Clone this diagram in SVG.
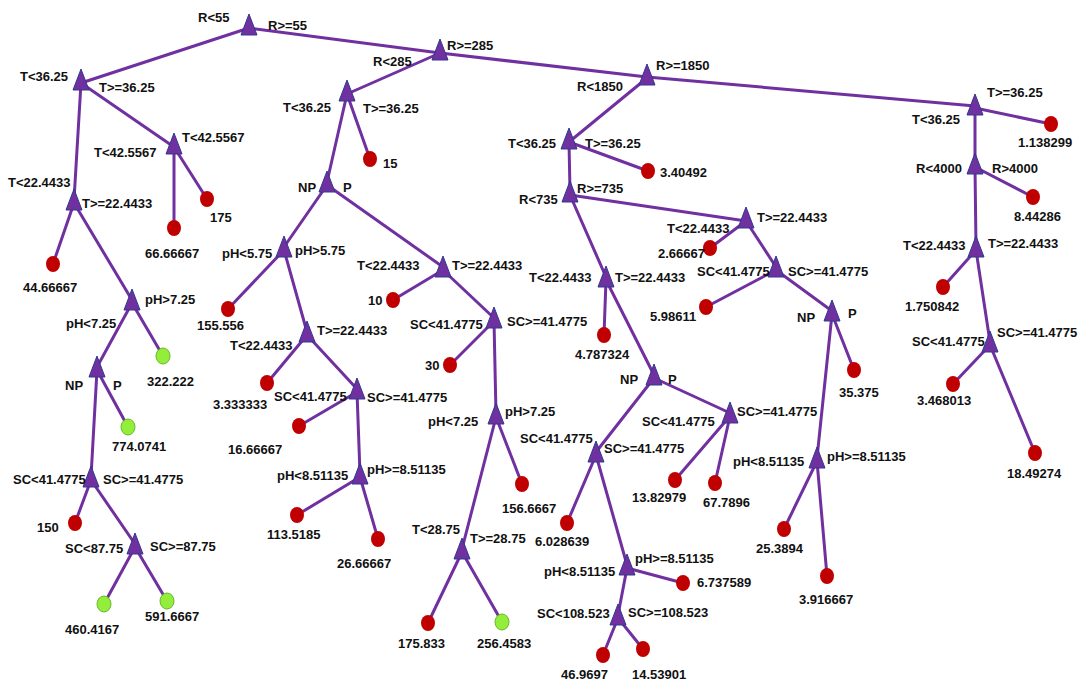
<svg xmlns="http://www.w3.org/2000/svg" xmlns:xlink="http://www.w3.org/1999/xlink" width="1080" height="684" viewBox="0 0 1080 684">
<style>
.e{stroke:#7030A0;stroke-width:3;fill:none;stroke-linecap:round}
.tri{fill:#7030A0;stroke:#2E3A8C;stroke-width:1}
.red{fill:#C00000}
.grn{fill:#92EE3A;stroke:#6AB82A;stroke-width:1}
text{font-family:"Liberation Sans",Arial,sans-serif;font-weight:bold;font-size:13px;fill:#111}
</style>
<defs>
<path id="tri" class="tri" d="M0,-11 L8,10 L-8,10 Z"/>
</defs>
<rect width="1080" height="684" fill="#fff"/>
<g id="connectors">
<polyline class="e" points="249,28 440,53 647,77 975,106"/>
<line class="e" x1="249" y1="28" x2="81" y2="83"/>
<line class="e" x1="81" y1="83" x2="74" y2="200"/>
<line class="e" x1="81" y1="83" x2="174" y2="147"/>
<line class="e" x1="174" y1="147" x2="174" y2="228"/>
<line class="e" x1="174" y1="147" x2="207" y2="199"/>
<line class="e" x1="74" y1="203" x2="53" y2="264"/>
<line class="e" x1="74" y1="203" x2="132" y2="300"/>
<line class="e" x1="132" y1="303" x2="97" y2="367"/>
<line class="e" x1="132" y1="303" x2="163" y2="356"/>
<line class="e" x1="97" y1="370" x2="128" y2="427"/>
<line class="e" x1="97" y1="370" x2="91" y2="477"/>
<line class="e" x1="91" y1="480" x2="75" y2="523"/>
<line class="e" x1="91" y1="480" x2="135" y2="544"/>
<line class="e" x1="135" y1="547" x2="104" y2="604"/>
<line class="e" x1="135" y1="547" x2="167" y2="601"/>
<line class="e" x1="440" y1="53" x2="347" y2="94"/>
<line class="e" x1="347" y1="94" x2="327" y2="182"/>
<line class="e" x1="347" y1="94" x2="370" y2="159"/>
<line class="e" x1="327" y1="185" x2="284" y2="247"/>
<line class="e" x1="327" y1="185" x2="443" y2="267"/>
<line class="e" x1="284" y1="250" x2="228" y2="309"/>
<line class="e" x1="284" y1="250" x2="307" y2="332"/>
<line class="e" x1="307" y1="335" x2="267" y2="383"/>
<line class="e" x1="307" y1="335" x2="357" y2="389"/>
<line class="e" x1="357" y1="392" x2="299" y2="426"/>
<line class="e" x1="357" y1="392" x2="360" y2="474"/>
<line class="e" x1="360" y1="477" x2="297" y2="515"/>
<line class="e" x1="360" y1="477" x2="378" y2="539"/>
<line class="e" x1="443" y1="270" x2="393" y2="300"/>
<line class="e" x1="443" y1="270" x2="494" y2="318"/>
<line class="e" x1="494" y1="321" x2="450" y2="365"/>
<line class="e" x1="494" y1="321" x2="496" y2="414"/>
<line class="e" x1="496" y1="417" x2="462" y2="549"/>
<line class="e" x1="496" y1="417" x2="522" y2="484"/>
<line class="e" x1="462" y1="552" x2="428" y2="623"/>
<line class="e" x1="462" y1="552" x2="502" y2="622"/>
<line class="e" x1="647" y1="78" x2="569" y2="142"/>
<line class="e" x1="569" y1="142" x2="570" y2="192"/>
<line class="e" x1="569" y1="142" x2="648" y2="171"/>
<line class="e" x1="570" y1="195" x2="746" y2="221"/>
<line class="e" x1="570" y1="195" x2="606" y2="277"/>
<line class="e" x1="746" y1="221" x2="710" y2="248"/>
<line class="e" x1="746" y1="221" x2="776" y2="267"/>
<line class="e" x1="776" y1="270" x2="706" y2="307"/>
<line class="e" x1="776" y1="270" x2="832" y2="311"/>
<line class="e" x1="832" y1="314" x2="854" y2="370"/>
<line class="e" x1="832" y1="314" x2="817" y2="458"/>
<line class="e" x1="817" y1="461" x2="784" y2="529"/>
<line class="e" x1="817" y1="461" x2="827" y2="576"/>
<line class="e" x1="606" y1="280" x2="604" y2="335"/>
<line class="e" x1="606" y1="280" x2="654" y2="375"/>
<line class="e" x1="654" y1="378" x2="596" y2="452"/>
<line class="e" x1="654" y1="378" x2="730" y2="413"/>
<line class="e" x1="730" y1="416" x2="675" y2="480"/>
<line class="e" x1="730" y1="416" x2="715" y2="483"/>
<line class="e" x1="596" y1="455" x2="567" y2="523"/>
<line class="e" x1="596" y1="455" x2="627" y2="565"/>
<line class="e" x1="627" y1="568" x2="683" y2="583"/>
<line class="e" x1="627" y1="568" x2="618" y2="615"/>
<line class="e" x1="618" y1="618" x2="603" y2="655"/>
<line class="e" x1="618" y1="618" x2="643" y2="649"/>
<line class="e" x1="975" y1="108" x2="1051" y2="124"/>
<line class="e" x1="975" y1="108" x2="975" y2="164"/>
<line class="e" x1="975" y1="167" x2="1033" y2="197"/>
<line class="e" x1="975" y1="167" x2="976" y2="247"/>
<line class="e" x1="976" y1="250" x2="943" y2="287"/>
<line class="e" x1="976" y1="250" x2="990" y2="342"/>
<line class="e" x1="990" y1="345" x2="953" y2="384"/>
<line class="e" x1="990" y1="345" x2="1035" y2="453"/>
</g>
<g id="n-A"><use href="#tri" x="249" y="25"/><text x="198" y="22">R&lt;55</text><text x="268" y="30">R&gt;=55</text></g>
<g id="n-B"><use href="#tri" x="81" y="80"/><text x="20" y="81">T&lt;36.25</text><text x="99" y="92">T&gt;=36.25</text></g>
<g id="n-E"><use href="#tri" x="174" y="144"/><text x="94" y="157">T&lt;42.5567</text><text x="182" y="142">T&lt;42.5567</text></g>
<g id="n-D"><use href="#tri" x="74" y="200"/><text x="8" y="187">T&lt;22.4433</text><text x="82" y="208">T&gt;=22.4433</text></g>
<g id="n-F"><use href="#tri" x="132" y="300"/><text x="145" y="304">pH&gt;7.25</text><text x="66" y="328">pH&lt;7.25</text></g>
<g id="n-G"><use href="#tri" x="97" y="367"/><text x="65" y="390">NP</text><text x="113" y="390">P</text></g>
<g id="n-H"><use href="#tri" x="91" y="477"/><text x="13" y="484">SC&lt;41.4775</text><text x="103" y="484">SC&gt;=41.4775</text></g>
<g id="n-I"><use href="#tri" x="135" y="544"/><text x="65" y="553">SC&lt;87.75</text><text x="150" y="551">SC&gt;=87.75</text></g>
<g id="n-C"><use href="#tri" x="440" y="50"/><text x="447" y="50">R&gt;=285</text><text x="373" y="66">R&lt;285</text></g>
<g id="n-J"><use href="#tri" x="347" y="91"/><text x="283" y="112">T&lt;36.25</text><text x="363" y="113">T&gt;=36.25</text></g>
<g id="n-L"><use href="#tri" x="327" y="182"/><text x="298" y="192">NP</text><text x="343" y="192">P</text></g>
<g id="n-M"><use href="#tri" x="284" y="247"/><text x="222" y="258">pH&lt;5.75</text><text x="295" y="255">pH&gt;5.75</text></g>
<g id="n-O"><use href="#tri" x="307" y="332"/><text x="230" y="350">T&lt;22.4433</text><text x="317" y="335">T&gt;=22.4433</text></g>
<g id="n-P"><use href="#tri" x="357" y="389"/><text x="274" y="401">SC&lt;41.4775</text><text x="367" y="402">SC&gt;=41.4775</text></g>
<g id="n-Q"><use href="#tri" x="360" y="474"/><text x="277" y="480">pH&lt;8.51135</text><text x="367" y="474">pH&gt;=8.51135</text></g>
<g id="n-N"><use href="#tri" x="443" y="267"/><text x="357" y="270">T&lt;22.4433</text><text x="452" y="270">T&gt;=22.4433</text></g>
<g id="n-R"><use href="#tri" x="494" y="318"/><text x="410" y="329">SC&lt;41.4775</text><text x="507" y="326">SC&gt;=41.4775</text></g>
<g id="n-S"><use href="#tri" x="496" y="414"/><text x="428" y="426">pH&lt;7.25</text><text x="505" y="416">pH&gt;7.25</text></g>
<g id="n-T"><use href="#tri" x="462" y="549"/><text x="412" y="534">T&lt;28.75</text><text x="470" y="543">T&gt;=28.75</text></g>
<g id="n-K"><use href="#tri" x="647" y="75"/><text x="656" y="70">R&gt;=1850</text><text x="577" y="91">R&lt;1850</text></g>
<g id="n-U"><use href="#tri" x="569" y="139"/><text x="508" y="148">T&lt;36.25</text><text x="585" y="148">T&gt;=36.25</text></g>
<g id="n-W"><use href="#tri" x="570" y="192"/><text x="519" y="204">R&lt;735</text><text x="577" y="193">R&gt;=735</text></g>
<g id="n-Y"><use href="#tri" x="746" y="218"/><text x="667" y="233">T&lt;22.4433</text><text x="757" y="222">T&gt;=22.4433</text></g>
<g id="n-Z"><use href="#tri" x="776" y="267"/><text x="697" y="276">SC&lt;41.4775</text><text x="788" y="276">SC&gt;=41.4775</text></g>
<g id="n-AA"><use href="#tri" x="832" y="311"/><text x="797" y="322">NP</text><text x="848" y="318">P</text></g>
<g id="n-AB"><use href="#tri" x="817" y="458"/><text x="733" y="466">pH&lt;8.51135</text><text x="827" y="461">pH&gt;=8.51135</text></g>
<g id="n-X"><use href="#tri" x="606" y="277"/><text x="529" y="282">T&lt;22.4433</text><text x="615" y="282">T&gt;=22.4433</text></g>
<g id="n-AC"><use href="#tri" x="654" y="375"/><text x="620" y="384">NP</text><text x="668" y="384">P</text></g>
<g id="n-AE"><use href="#tri" x="730" y="413"/><text x="642" y="426">SC&lt;41.4775</text><text x="737" y="416">SC&gt;=41.4775</text></g>
<g id="n-AD"><use href="#tri" x="596" y="452"/><text x="520" y="443">SC&lt;41.4775</text><text x="604" y="453">SC&gt;=41.4775</text></g>
<g id="n-AF"><use href="#tri" x="627" y="565"/><text x="544" y="576">pH&lt;8.51135</text><text x="635" y="563">pH&gt;=8.51135</text></g>
<g id="n-AG"><use href="#tri" x="618" y="615"/><text x="537" y="618">SC&lt;108.523</text><text x="628" y="617">SC&gt;=108.523</text></g>
<g id="n-V"><use href="#tri" x="975" y="105"/><text x="987" y="97">T&gt;=36.25</text><text x="912" y="124">T&lt;36.25</text></g>
<g id="n-AH"><use href="#tri" x="975" y="164"/><text x="916" y="173">R&lt;4000</text><text x="992" y="173">R&gt;4000</text></g>
<g id="n-AI"><use href="#tri" x="976" y="247"/><text x="903" y="250">T&lt;22.4433</text><text x="988" y="248">T&gt;=22.4433</text></g>
<g id="n-AJ"><use href="#tri" x="990" y="342"/><text x="912" y="346">SC&lt;41.4775</text><text x="997" y="337">SC&gt;=41.4775</text></g>
<g id="leaf-175"><ellipse class="red" cx="207" cy="199" rx="7" ry="8"/><text x="210" y="222">175</text></g>
<g id="leaf-66"><ellipse class="red" cx="174" cy="228" rx="7" ry="8"/><text x="145" y="258">66.66667</text></g>
<g id="leaf-44"><ellipse class="red" cx="53" cy="264" rx="7" ry="8"/><text x="23" y="292">44.66667</text></g>
<g id="leaf-322"><ellipse class="grn" cx="163" cy="356" rx="7" ry="8"/><text x="147" y="386">322.222</text></g>
<g id="leaf-774"><ellipse class="grn" cx="128" cy="427" rx="7" ry="8"/><text x="112" y="451">774.0741</text></g>
<g id="leaf-150"><ellipse class="red" cx="75" cy="523" rx="7" ry="8"/><text x="37" y="532">150</text></g>
<g id="leaf-460"><ellipse class="grn" cx="104" cy="604" rx="7" ry="8"/><text x="65" y="634">460.4167</text></g>
<g id="leaf-591"><ellipse class="grn" cx="167" cy="601" rx="7" ry="8"/><text x="145" y="621">591.6667</text></g>
<g id="leaf-15"><ellipse class="red" cx="370" cy="159" rx="7" ry="8"/><text x="383" y="168">15</text></g>
<g id="leaf-155"><ellipse class="red" cx="228" cy="309" rx="7" ry="8"/><text x="197" y="330">155.556</text></g>
<g id="leaf-3333"><ellipse class="red" cx="267" cy="383" rx="7" ry="8"/><text x="213" y="409">3.333333</text></g>
<g id="leaf-1666"><ellipse class="red" cx="299" cy="426" rx="7" ry="8"/><text x="228" y="454">16.66667</text></g>
<g id="leaf-113"><ellipse class="red" cx="297" cy="515" rx="7" ry="8"/><text x="267" y="539">113.5185</text></g>
<g id="leaf-2666"><ellipse class="red" cx="378" cy="539" rx="7" ry="8"/><text x="337" y="568">26.66667</text></g>
<g id="leaf-10"><ellipse class="red" cx="393" cy="300" rx="7" ry="8"/><text x="368" y="305">10</text></g>
<g id="leaf-30"><ellipse class="red" cx="450" cy="365" rx="7" ry="8"/><text x="425" y="370">30</text></g>
<g id="leaf-156"><ellipse class="red" cx="522" cy="484" rx="7" ry="8"/><text x="502" y="513">156.6667</text></g>
<g id="leaf-175833"><ellipse class="red" cx="428" cy="623" rx="7" ry="8"/><text x="398" y="648">175.833</text></g>
<g id="leaf-256"><ellipse class="grn" cx="502" cy="622" rx="7" ry="8"/><text x="477" y="648">256.4583</text></g>
<g id="leaf-3404"><ellipse class="red" cx="648" cy="171" rx="7" ry="8"/><text x="660" y="177">3.40492</text></g>
<g id="leaf-266"><ellipse class="red" cx="710" cy="248" rx="7" ry="8"/><text x="658" y="258">2.66667</text></g>
<g id="leaf-598"><ellipse class="red" cx="706" cy="307" rx="7" ry="8"/><text x="650" y="321">5.98611</text></g>
<g id="leaf-4787"><ellipse class="red" cx="604" cy="335" rx="7" ry="8"/><text x="575" y="359">4.787324</text></g>
<g id="leaf-35"><ellipse class="red" cx="854" cy="370" rx="7" ry="8"/><text x="839" y="397">35.375</text></g>
<g id="leaf-25"><ellipse class="red" cx="784" cy="529" rx="7" ry="8"/><text x="756" y="553">25.3894</text></g>
<g id="leaf-3916"><ellipse class="red" cx="827" cy="576" rx="7" ry="8"/><text x="799" y="604">3.916667</text></g>
<g id="leaf-1382"><ellipse class="red" cx="675" cy="480" rx="7" ry="8"/><text x="632" y="502">13.82979</text></g>
<g id="leaf-677"><ellipse class="red" cx="715" cy="483" rx="7" ry="8"/><text x="703" y="507">67.7896</text></g>
<g id="leaf-6028"><ellipse class="red" cx="567" cy="523" rx="7" ry="8"/><text x="535" y="546">6.028639</text></g>
<g id="leaf-6737"><ellipse class="red" cx="683" cy="583" rx="7" ry="8"/><text x="697" y="587">6.737589</text></g>
<g id="leaf-4696"><ellipse class="red" cx="603" cy="655" rx="7" ry="8"/><text x="561" y="679">46.9697</text></g>
<g id="leaf-1453"><ellipse class="red" cx="643" cy="649" rx="7" ry="8"/><text x="632" y="679">14.53901</text></g>
<g id="leaf-1138"><ellipse class="red" cx="1051" cy="124" rx="7" ry="8"/><text x="1018" y="147">1.138299</text></g>
<g id="leaf-844"><ellipse class="red" cx="1033" cy="197" rx="7" ry="8"/><text x="1014" y="221">8.44286</text></g>
<g id="leaf-1750"><ellipse class="red" cx="943" cy="287" rx="7" ry="8"/><text x="905" y="311">1.750842</text></g>
<g id="leaf-3468"><ellipse class="red" cx="953" cy="384" rx="7" ry="8"/><text x="917" y="405">3.468013</text></g>
<g id="leaf-1849"><ellipse class="red" cx="1035" cy="453" rx="7" ry="8"/><text x="1007" y="478">18.49274</text></g>
</svg>
